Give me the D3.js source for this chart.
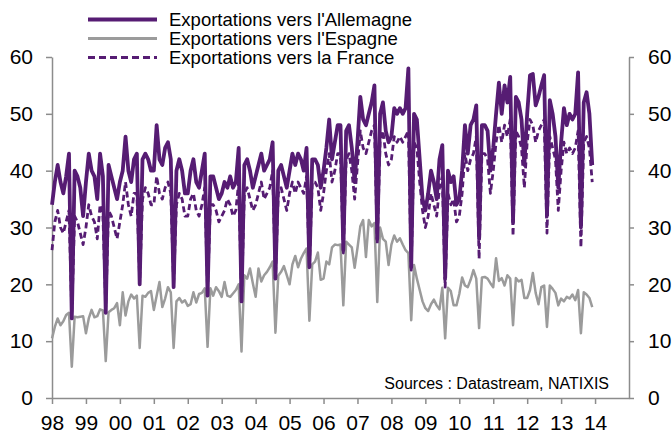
<!DOCTYPE html>
<html>
<head>
<meta charset="utf-8">
<script src="https://cdn.jsdelivr.net/npm/d3@7"></script>
<style>
  html, body { margin: 0; padding: 0; background: #ffffff; }
  svg { display: block; font-family: Arial, "Liberation Sans", sans-serif; }
</style>
</head>
<body>
<svg id="chart" width="672" height="435"></svg>
<script>
// ---------- DATA (monthly, Jan 1998 - Dec 2013) ----------
const startYear = 1998;
const yearLabels = ["98","99","00","01","02","03","04","05","06","07","08","09","10","11","12","13","14"];
const yTicks = [0, 10, 20, 30, 40, 50, 60];
const seriesNames = ["Exportations vers l'Allemagne", "Exportations vers l'Espagne", "Exportations vers la France"];

const germany = [
  34, 38, 41, 38, 36, 39, 43, 14, 40, 39, 37, 32,          // 1998
  38, 43, 40, 39, 35, 43, 39, 15, 41, 39, 37, 35,          // 1999
  38, 40, 46, 40, 38, 42, 43, 20, 42, 43, 42, 40,          // 2000
  40, 48, 42, 41, 44, 45, 42, 19.5, 40, 42, 40, 36,        // 2001
  36, 40, 42, 38, 37, 40, 43, 18, 39, 39, 37, 35,          // 2002
  36, 38, 37, 39, 37, 38, 44, 17, 41, 42, 40, 37,          // 2003
  39, 41, 43, 40, 41, 42, 45, 21, 40, 41, 39, 37,          // 2004
  40, 43, 41, 43, 42, 40, 44, 23, 42, 42, 41, 37,          // 2005
  40, 44, 49, 42, 45, 48, 48, 26, 47, 48, 44, 38,          // 2006
  45, 53, 49, 48, 50, 52, 55, 28, 50, 52, 47, 45,          // 2007
  46, 51, 50, 51, 50, 51, 58, 23, 50, 49, 42, 35,          // 2008
  33, 36, 40, 38, 35, 42, 44.5, 21, 40, 38, 39, 34,        // 2009
  35, 40, 48, 43, 48, 49, 51.5, 28, 48, 48, 47, 40,        // 2010
  44, 50, 55.5, 50, 55, 52, 56.5, 31, 53, 52, 49, 41,      // 2011
  50, 56.8, 57, 51.5, 53, 55, 56.8, 32, 52.4, 50, 46, 37,  // 2012
  45, 51, 48, 50, 49, 50, 57.3, 30, 52, 53.8, 50, 41       // 2013
];

const spain = [
  10.5, 12.5, 14, 12.8, 13.5, 14.6, 15, 5.5, 14.3, 14.2, 14.3, 14.4,     // 1998
  11.4, 14, 15.5, 14.2, 14.4, 15.6, 15.4, 6.5, 15.1, 15.5, 15.8, 16.7,   // 1999
  12.8, 18.6, 14.5, 17, 18.2, 17.5, 18, 8.8, 18, 17.8, 18.5, 18.8,       // 2000
  15.5, 18, 20.4, 16, 17.5, 19.5, 18.6, 8.8, 17, 17.6, 16.8, 17.2,       // 2001
  16.2, 16.5, 18.6, 16.8, 18.3, 18.5, 19.3, 9, 19.3, 18, 19.5, 18.8,     // 2002
  17.8, 20.4, 18, 17.8, 18.4, 19, 20, 8.2, 21.6, 21, 22.8, 20.2,         // 2003
  17.8, 22.8, 20.5, 21.6, 22.2, 23, 24, 11.5, 21.5, 22.2, 23.2, 21.6,    // 2004
  20, 23.5, 25, 23, 24.5, 25.5, 26.3, 13.6, 23.5, 24, 25.6, 20.8,        // 2005
  21, 24, 23.5, 26.5, 27, 26.9, 27, 16.3, 27.5, 27, 26.5, 22.9,          // 2006
  26.4, 30.2, 31.3, 24.8, 31.3, 30.2, 30.8, 16.9, 30, 28, 27.5, 23.4,    // 2007
  27, 28.6, 27.5, 28.1, 27, 26, 25.5, 13.7, 23.4, 21, 19, 17,            // 2008
  15.8, 15.3, 16.5, 17.3, 16.3, 15.6, 19.4, 10.5, 19.4, 18.8, 16.3, 16.3,// 2009
  18.3, 21.2, 19.8, 19.5, 20.8, 22.5, 21, 12.3, 21.2, 21.3, 21, 20.2,    // 2010
  19.5, 24.6, 20.6, 21.1, 19.8, 21.6, 21, 12.8, 21.1, 20.5, 20.8, 17.6,  // 2011
  17.6, 19, 22, 18.5, 16.5, 19.5, 19.8, 12.5, 19.8, 19.2, 18.5, 16.3,    // 2012
  17.5, 17, 17.8, 17.5, 18.2, 17.2, 19, 11.4, 18.6, 18.2, 17.6, 16       // 2013
];

const france = [
  26, 31, 33, 30, 29, 31, 33, 15, 32, 31, 29, 27,          // 1998
  30, 34, 32, 31, 28, 34, 32, 16, 33, 32, 30, 28,          // 1999
  31, 34, 38, 34, 32, 36, 36, 20.5, 35, 37, 36, 34,        // 2000
  34, 39, 36, 35, 37, 38, 36, 20, 34, 36, 35, 32,          // 2001
  32, 35, 36, 33, 32, 34, 37, 19, 34, 34, 33, 31,          // 2002
  32, 33, 35, 34, 32, 33, 38, 17.5, 36, 37, 35, 33,        // 2003
  34, 36, 38, 35, 36, 37, 40, 21, 36, 37, 35, 33,          // 2004
  36, 38, 36, 38, 37, 36, 39, 23, 38, 38, 37, 33,          // 2005
  36, 40, 43, 38, 40, 43, 43, 25.5, 42, 43, 40, 35,        // 2006
  41, 47, 44, 43, 45, 47, 48, 27, 45, 47, 43, 41,          // 2007
  42, 46, 45, 46, 45, 46, 47, 22.5, 45, 44, 38, 33,        // 2008
  30, 32, 36, 34, 32, 37, 39, 19.5, 36, 34, 35, 31,        // 2009
  32, 36, 43, 40, 42, 43, 46, 24.5, 43, 43, 42, 36,        // 2010
  40, 45, 48, 45, 48, 46, 49, 28.5, 47, 46, 44, 37,        // 2011
  45, 49, 48, 45, 47, 48, 49, 29, 46, 44, 42, 33,          // 2012
  40, 45, 43, 44, 43, 44, 47, 26.5, 45, 46, 44, 38         // 2013
];

// ---------- LAYOUT ----------
const svg = d3.select("#chart");
const mLeft = 52, mRight = 629, mTop = 57, mBottom = 398;
const axisColor = "#8c8c8c";
const purple = "#561c73";
const grey = "#9b9b9b";

const x = d3.scaleLinear().domain([startYear, startYear + 17]).range([mLeft, mRight]);
const y = d3.scaleLinear().domain([0, 60]).range([mBottom, mTop]);

const toPoints = arr => arr.map((v, i) => ({ t: startYear + i / 12, v }));
const line = d3.line().x(d => x(d.t)).y(d => y(d.v));

// ---------- AXES ----------
function styleAxis(g) {
  g.selectAll(".domain").attr("stroke", axisColor).attr("stroke-width", 1.5);
  g.selectAll(".tick line").attr("stroke", axisColor).attr("stroke-width", 1.5);
  g.selectAll("text").attr("fill", "#000").attr("font-size", 21)
    .attr("font-family", "Arial, 'Liberation Sans', sans-serif");
}

svg.append("g").attr("transform", `translate(${mLeft},0)`)
  .call(d3.axisLeft(y).tickValues(yTicks).tickSize(6).tickPadding(13).tickSizeOuter(0))
  .call(styleAxis);

svg.append("g").attr("transform", `translate(${mRight},0)`)
  .call(d3.axisRight(y).tickValues(yTicks).tickSize(5).tickPadding(14).tickSizeOuter(0))
  .call(styleAxis);

const yearTicks = yearLabels.map((_, i) => startYear + i);
svg.append("g").attr("transform", `translate(0,${mBottom})`)
  .call(d3.axisBottom(x).tickValues(yearTicks).tickFormat((d, i) => yearLabels[i])
        .tickSize(6).tickPadding(11).tickSizeOuter(0))
  .call(styleAxis);

// ---------- SERIES ----------
svg.append("path").datum(toPoints(spain))
  .attr("d", line).attr("fill", "none").attr("stroke", grey)
  .attr("stroke-width", 2.5).attr("stroke-linejoin", "round");

svg.append("path").datum(toPoints(france))
  .attr("d", line).attr("fill", "none").attr("stroke", purple)
  .attr("stroke-width", 2.8).attr("stroke-dasharray", "6,3.5").attr("stroke-linejoin", "round");

svg.append("path").datum(toPoints(germany))
  .attr("d", line).attr("fill", "none").attr("stroke", purple)
  .attr("stroke-width", 3.8).attr("stroke-linejoin", "round");

// ---------- LEGEND ----------
const legendStyles = [
  { color: purple, width: 4, dash: null },
  { color: grey, width: 2.8, dash: null },
  { color: purple, width: 2.8, dash: "7,4" }
];
const legend = svg.append("g");
seriesNames.forEach((name, i) => {
  const ly = 19.5 + i * 19;
  const st = legendStyles[i];
  legend.append("line").attr("x1", 88).attr("x2", 157).attr("y1", ly).attr("y2", ly)
    .attr("stroke", st.color).attr("stroke-width", st.width)
    .attr("stroke-dasharray", st.dash);
  legend.append("text").attr("x", 169).attr("y", ly + 6.5)
    .attr("font-size", 18.5).attr("fill", "#000").text(name);
});

// ---------- SOURCE ----------
svg.append("text").attr("x", 609).attr("y", 389).attr("text-anchor", "end")
  .attr("font-size", 16).attr("fill", "#000").text("Sources : Datastream, NATIXIS");
</script>
</body>
</html>
